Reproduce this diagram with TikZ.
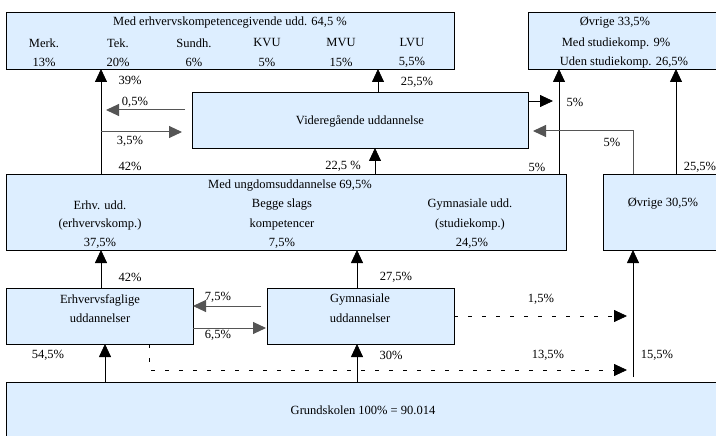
\documentclass[tikz,border=0pt]{standalone}
\usepackage{fontspec}
\setmainfont{Liberation Serif}
\usetikzlibrary{arrows.meta}
\definecolor{boxblue}{RGB}{221,238,255}
\definecolor{lineg}{RGB}{85,85,85}
\tikzset{
  box/.style={draw=black, line width=0.9pt, fill=boxblue, anchor=north west, inner sep=0pt, outer sep=0pt},
  t/.style={font=\fontsize{12.5pt}{14pt}\selectfont, inner sep=0pt, anchor=center},
  arr/.style={-{Triangle[length=13pt,width=12pt]}, line width=0.8pt, draw=black},
  arrg/.style={arr, draw=lineg, line width=1pt},
  dashes/.style={dash pattern=on 4pt off 10pt}
}
\begin{document}
\begin{tikzpicture}[x=1pt,y=-1pt]
\useasboundingbox (0,0) rectangle (716,436);
% boxes
\node[box, minimum width=448pt, minimum height=57pt] (top) at (6,12) {};
\node[box, minimum width=192pt, minimum height=57pt] (topR) at (528,12) {};
\node[box, minimum width=336pt, minimum height=56pt] (vid) at (192,92) {};
\node[box, minimum width=560pt, minimum height=76pt] (ung) at (6,174) {};
\node[box, minimum width=117pt, minimum height=76pt] (ovr) at (603,174) {};
\node[box, minimum width=187pt, minimum height=56pt] (erhv) at (6,288) {};
\node[box, minimum width=187pt, minimum height=56pt] (gym) at (267,288) {};
\node[box, minimum width=714pt, minimum height=60pt] (grund) at (6,382) {};
% texts in boxes
\node[t] (topT) at (230,23) {Med erhvervskompetencegivende udd. 64,5 \%};
\node[t] (c1a) at (44,43) {Merk.};
\node[t] (c1b) at (44,62) {13\%};
\node[t] (c2a) at (118,43) {Tek.};
\node[t] (c2b) at (118,62) {20\%};
\node[t] (c3a) at (194,43) {Sundh.};
\node[t] (c3b) at (194,62) {6\%};
\node[t] (c4a) at (267,43) {KVU};
\node[t] (c4b) at (267,62) {5\%};
\node[t] (c5a) at (341,43) {MVU};
\node[t] (c5b) at (341,62) {15\%};
\node[t] (c6a) at (412,43) {LVU};
\node[t] (c6b) at (412,62) {5,5\%};
\node[t] (r1) at (615,23) {Øvrige 33,5\%};
\node[t] (r2) at (616,43) {Med studiekomp. 9\%};
\node[t] (r3) at (624,62) {Uden studiekomp. 26,5\%};
\node[t] (vidT) at (360,121) {Videregående uddannelse};
\node[t] (ungT) at (290,186) {Med ungdomsuddannelse 69,5\%};
\node[t] (u1a) at (100,205) {Erhv. udd.};
\node[t] (u1b) at (100,224) {(erhvervskomp.)};
\node[t] (u1c) at (100,243) {37,5\%};
\node[t] (u2a) at (282,205) {Begge slags};
\node[t] (u2b) at (282,224) {kompetencer};
\node[t] (u2c) at (282,243) {7,5\%};
\node[t] (u3a) at (470,205) {Gymnasiale udd.};
\node[t] (u3b) at (470,224) {(studiekomp.)};
\node[t] (u3c) at (472,243) {24,5\%};
\node[t] (ovrT) at (663,204) {Øvrige 30,5\%};
\node[t] (erhvA) at (100,300) {Erhvervsfaglige};
\node[t] (erhvB) at (100,318) {uddannelser};
\node[t] (gymA) at (360,300) {Gymnasiale};
\node[t] (gymB) at (360,318) {uddannelser};
\node[t] (grundT) at (363,410) {Grundskolen 100\% = 90.014};
% helper coordinates
\coordinate (xT) at (101,0);
\coordinate (xE) at (105,0);
\coordinate (xD) at (149,0);
\coordinate (xG) at (357,0);
\coordinate (xV2) at (375,0);
\coordinate (xV1) at (378,0);
\coordinate (xR1) at (559,0);
\coordinate (xO) at (633,0);
\coordinate (xR2) at (676,0);
\coordinate (yC) at (0,101);
\coordinate (yA) at (0,110);
\coordinate (yD) at (0,131);
\coordinate (yB) at (0,132);
\coordinate (yE) at (0,306);
\coordinate (yG) at (0,316);
\coordinate (yF) at (0,328);
\coordinate (yH) at (0,370);
% connectors
\draw[arr] (xT |- ung.north) -- (xT |- top.south);
\draw[arrg, shorten <=7pt, shorten >=5pt] (vid.west |- yA) -- (xT |- yA);
\draw[arrg, shorten >=10pt] (xT |- yB) -- (vid.west |- yB);
\draw[arr] (xV1 |- vid.north) -- (xV1 |- top.south);
\draw[arr] (xV2 |- ung.north) -- (xV2 |- vid.south);
\draw[arr, shorten >=6pt] (vid.east |- yC) -- (xR1 |- yC);
\draw[arr] (xR1 |- ung.north) -- (xR1 |- topR.south);
\draw[arrg, shorten >=5pt] (xO |- ovr.north) |- (vid.east |- yD);
\draw[arr] (xR2 |- ovr.north) -- (xR2 |- topR.south);
\draw[arr] (xT |- erhv.north) -- (xT |- ung.south);
\draw[arr] (xG |- gym.north) -- (xG |- ung.south);
\draw[arrg, shorten <=6pt] (gym.west |- yE) -- (erhv.east |- yE);
\draw[arrg, shorten >=1pt] (erhv.east |- yF) -- (gym.west |- yF);
\draw[arr, dashes, shorten >=6pt] (gym.east |- yG) -- (xO |- yG);
\draw[arr, dashes, shorten >=6pt] (xD |- erhv.south) |- (xO |- yH);
\draw[arr, shorten <=5pt] (xO |- grund.north) -- (xO |- ovr.south);
\draw[arr] (xE |- grund.north) -- (xE |- erhv.south);
\draw[arr] (xG |- grund.north) -- (xG |- gym.south);
% connector labels
\node[t] (l39) at (130,80) {39\%};
\node[t] (l05) at (135,102) {0,5\%};
\node[t] (l35) at (130,141) {3,5\%};
\node[t] (l42a) at (130,166) {42\%};
\node[t] (l255a) at (417,82) {25,5\%};
\node[t] (l225) at (343,166) {22,5 \%};
\node[t] (l5a) at (575,102) {5\%};
\node[t] (l5b) at (612,142) {5\%};
\node[t] (l5c) at (537,167) {5\%};
\node[t] (l255b) at (700,167) {25,5\%};
\node[t] (l42b) at (130,277) {42\%};
\node[t] (l275) at (396,277) {27,5\%};
\node[t] (l75) at (218,297) {7,5\%};
\node[t] (l65) at (218,335) {6,5\%};
\node[t] (l15) at (541,299) {1,5\%};
\node[t] (l545) at (48,355) {54,5\%};
\node[t] (l30) at (391,355) {30\%};
\node[t] (l135) at (548,355) {13,5\%};
\node[t] (l155) at (657,355) {15,5\%};
\end{tikzpicture}
\end{document}
